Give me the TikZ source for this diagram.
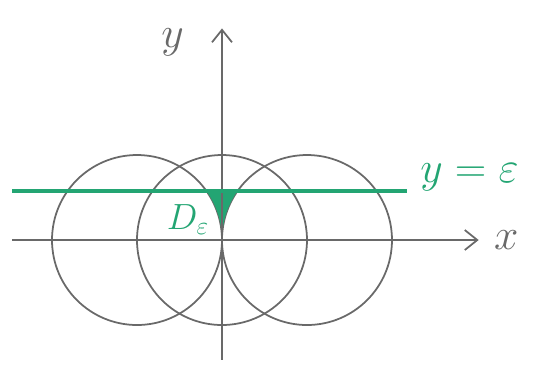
\documentclass[tikz,border=0pt]{standalone}
\usepackage{amsmath}
\usetikzlibrary{arrows.meta, positioning}
\definecolor{inkgray}{RGB}{105,105,105}
\definecolor{inkgreen}{RGB}{35,165,115}

\begin{document}
\begin{tikzpicture}[
    x=1.7cm, y=1.7cm,
    pen/.style={draw=inkgray, line width=1pt},
    axis/.style={pen, -{Straight Barb[length=2.5mm, width=4mm]}},
    level/.style={draw=inkgreen, line width=2pt},
    hand/.style={inner sep=0pt, text=inkgray},
    greenhand/.style={inner sep=0pt, text=inkgreen},
]

\useasboundingbox (-2.612,-1.494) rectangle (3.718,2.824);

\coordinate (O) at (0,0);
\coordinate (xstart) at (-2.47,0);
\coordinate (xend) at (3.02,0);
\coordinate (ystart) at (0,-1.41);
\coordinate (yend) at (0,2.49);
\coordinate (lstart) at (-2.47,0.574);
\coordinate (lend) at (2.18,0.574);
\coordinate (cusp) at (-0.181,0.574);

% the three circles
\draw[pen] (-1,0) circle (1);
\draw[pen] (O) circle (1);
\draw[pen] (1,0) circle (1);

% region D_eps
\fill[inkgreen] (cusp) arc[start angle=35, end angle=0, radius=1]
    arc[start angle=180, end angle=145, radius=1] -- cycle;

% axes
\draw[axis] (xstart) -- (xend);
\draw[axis] (ystart) -- (yend);

% y = eps
\draw[level] (lstart) -- (lend);

\node[hand, font=\fontsize{30}{32}\selectfont, right=0.3cm of xend] (xlabel) {$x$};
\node[hand, font=\fontsize{32}{34}\selectfont] (ylabel) at (-0.58,2.33) {$y$};
\node[greenhand, font=\fontsize{25}{27}\selectfont, anchor=west] (levlabel) at (2.33,0.74) {$y=\varepsilon$};
\node[greenhand, font=\fontsize{22}{24}\selectfont] (dlabel) at (-0.4,0.24) {$D_\varepsilon$};

\end{tikzpicture}
\end{document}
